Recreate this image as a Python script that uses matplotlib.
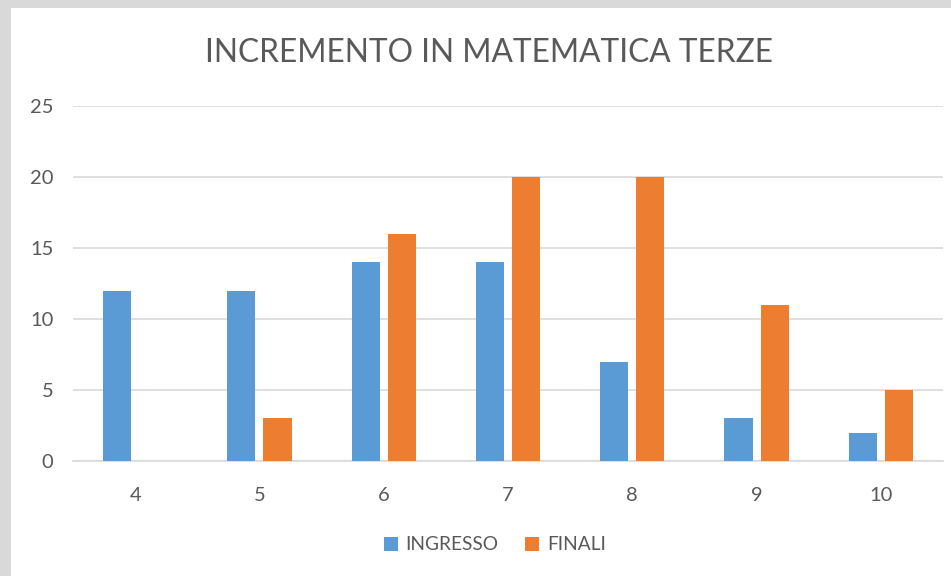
"""Grouped bar chart: INCREMENTO IN MATEMATICA TERZE."""

import matplotlib
matplotlib.use("Agg")
import matplotlib.pyplot as plt
import numpy as np
from matplotlib.patches import Rectangle

# Data
categories = ["4", "5", "6", "7", "8", "9", "10"]
ingresso = [12, 12, 14, 14, 7, 3, 2]
finali = [0, 3, 16, 20, 20, 11, 5]
series_names = ["INGRESSO", "FINALI"]
y_ticks = [0, 5, 10, 15, 20, 25]

BLUE = "#5B9BD5"
ORANGE = "#ED7D31"
TEXT = "#595959"
GRID = "#D9D9D9"

plt.rcParams["font.family"] = ["Lato", "DejaVu Sans"]

W, H = 951, 576
fig = plt.figure(figsize=(W / 100, H / 100), dpi=100)
fig.patch.set_facecolor("#D9D9D9")

# White chart area inside the grey frame
fig.patches.append(Rectangle((11 / W, 0), 1 - 11 / W, 1 - 8 / H,
                             transform=fig.transFigure, facecolor="white",
                             edgecolor="none", zorder=-1))

ax = fig.add_axes([73 / W, 1 - 461 / H, (943 - 73) / W, (461 - 106) / H])
ax.set_zorder(2)
ax.set_facecolor("none")

x = np.arange(len(categories))
bar_w = 0.226
gap = 0.065
off = (bar_w + gap) / 2
ax.bar(x - off, ingresso, bar_w, color=BLUE, label=series_names[0], zorder=3)
ax.bar(x + off, finali, bar_w, color=ORANGE, label=series_names[1], zorder=3)

ax.set_xlim(-0.5, len(categories) - 0.5)
ax.set_ylim(0, 25)
ax.set_yticks(y_ticks)
ax.set_xticks(x)
ax.set_xticklabels(categories)
ax.yaxis.grid(True, color=GRID, linewidth=1.2, zorder=0)
ax.set_axisbelow(True)
for side in ["top", "right", "left"]:
    ax.spines[side].set_visible(False)
ax.spines["bottom"].set_color(GRID)
ax.spines["bottom"].set_linewidth(1.2)
ax.tick_params(axis="both", length=0, colors=TEXT, labelsize=14.5)
ax.tick_params(axis="x", pad=19)
ax.tick_params(axis="y", pad=14)

fig.text(489 / W, 1 - 53 / H, "INCREMENTO IN MATEMATICA TERZE",
         ha="center", va="center", fontsize=22.8, color=TEXT, zorder=3)

leg = ax.legend(loc="center", bbox_to_anchor=(495 / W, 1 - 545 / H),
                bbox_transform=fig.transFigure, ncol=2, frameon=False,
                fontsize=13.8, handlelength=0.72, handleheight=0.72,
                handletextpad=0.4, columnspacing=1.4)
for t in leg.get_texts():
    t.set_color(TEXT)

fig.savefig("out.png", dpi=100, facecolor=fig.get_facecolor())
